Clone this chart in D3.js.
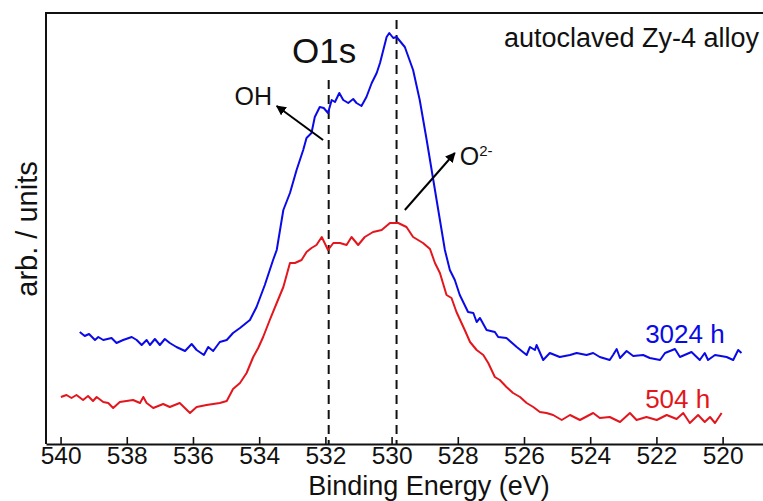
<!DOCTYPE html>
<html>
<head>
<meta charset="utf-8">
<script src="https://cdn.jsdelivr.net/npm/d3@7/dist/d3.min.js"></script>
<style>
  html, body { margin: 0; padding: 0; background: #fff; }
  svg { display: block; }
  text { font-family: "Liberation Sans", Arial, Helvetica, sans-serif; fill: #111; }
</style>
</head>
<body>
<svg id="chart" width="763" height="501"></svg>
<script>
// ---- data (binding energy in eV, intensity in arb. units) ----
const energy3024 = [539.42,539.27,539.14,538.96,538.86,538.71,538.46,538.31,538.11,537.85,537.70,537.55,537.40,537.30,537.15,537.00,536.85,536.70,536.50,536.24,536.04,535.89,535.67,535.54,535.39,535.19,534.98,534.79,534.58,534.28,534.08,533.83,533.58,533.47,533.27,533.07,532.87,532.67,532.57,532.42,532.32,532.17,532.05,531.92,531.81,531.71,531.58,531.46,531.31,531.16,531.06,530.91,530.76,530.60,530.45,530.35,530.25,530.15,530.07,529.95,529.85,529.60,529.35,529.15,528.94,528.74,528.54,528.39,528.24,528.09,527.94,527.69,527.53,527.43,527.33,527.13,526.88,526.78,526.53,526.22,525.92,525.82,525.67,525.62,525.42,525.22,524.92,524.61,524.41,524.11,523.91,523.71,523.41,523.31,523.20,523.10,522.90,522.70,522.40,522.20,521.89,521.74,521.44,521.29,520.94,520.69,520.54,520.44,520.23,519.88,519.68,519.53,519.43];
const counts3024 = [112,108,110,104,107,104,106,101,104,107,104,99,104,99,105,99,105,101,97,93,100,94,89,97,93,102,104,111,116,124,137,159,184,194,234,251,274,294,306,311,327,337,336,331,344,342,351,344,341,345,341,338,347,361,371,381,394,407,411,406,407,397,374,344,304,264,224,194,174,164,149,132,131,122,126,114,112,107,106,97,89,97,94,99,84,91,87,89,91,89,91,87,84,89,95,86,93,88,89,86,84,91,95,87,92,84,91,84,89,87,84,94,91];

const energy504 = [539.99,539.82,539.67,539.52,539.32,539.17,539.02,538.91,538.71,538.56,538.41,538.21,537.81,537.60,537.50,537.40,537.20,536.90,536.70,536.40,536.09,535.89,535.59,535.19,534.98,534.79,534.58,534.38,534.18,534.03,533.88,533.68,533.47,533.27,533.07,532.92,532.72,532.57,532.42,532.27,532.11,531.92,531.76,531.56,531.36,531.21,531.01,530.81,530.56,530.30,530.05,529.80,529.55,529.35,529.05,528.84,528.69,528.54,528.34,528.19,528.04,527.79,527.63,527.43,527.23,527.08,526.88,526.73,526.53,526.33,526.12,525.92,525.72,525.52,525.32,525.12,524.86,524.61,524.31,523.91,523.71,523.41,523.10,522.80,522.60,522.30,521.99,521.69,521.39,521.19,520.99,520.74,520.54,520.38,520.23,520.03];
const counts504 = [47,49,46,49,44,48,43,47,42,41,36,42,44,41,47,41,36,40,37,41,31,37,39,41,43,55,61,71,87,96,107,124,141,157,181,181,184,192,196,199,207,194,201,201,199,207,199,207,212,214,221,221,217,207,201,195,181,171,149,146,132,114,102,94,89,81,67,64,57,51,47,41,37,32,31,29,24,29,24,31,26,27,22,31,24,27,24,29,25,31,21,29,22,27,21,31];

const tickValues = [540,538,536,534,532,530,528,526,524,522,520];
const tickLabels = ["540","538","536","534","532","530","528","526","524","522","520"];
const peakLines = [531.9, 529.85];
const seriesNames = ["3024 h", "504 h"];
const seriesColors = ["#0a0ae8", "#e3161d"];

// ---- scales ----
const svg = d3.select("#chart");
const x = d3.scaleLinear().domain([540.44, 518.78]).range([46, 763]);
const y = d3.scaleLinear().domain([0, 431]).range([444, 13]);

// defs: arrow head
svg.append("defs").append("marker")
  .attr("id", "arrow").attr("viewBox", "0 0 10 10")
  .attr("refX", 9).attr("refY", 5)
  .attr("markerWidth", 5).attr("markerHeight", 5)
  .attr("orient", "auto-start-reverse")
  .append("path").attr("d", "M0,0 L10,5 L0,10 Z").attr("fill", "#000");

// frame (top + left; right edge lies outside the picture)
svg.append("path")
  .attr("d", `M${x(518.0)},${y(431)} H${x(540.44)} V${y(0)}`)
  .attr("fill", "none").attr("stroke", "#111").attr("stroke-width", 2);

// bottom axis
const xAxis = d3.axisBottom(x)
  .tickValues(tickValues)
  .tickFormat((d, i) => tickLabels[i])
  .tickSizeInner(-7).tickSizeOuter(0).tickPadding(3);
const gx = svg.append("g").attr("transform", `translate(0,${y(0)})`).call(xAxis);
gx.select(".domain").attr("stroke", "#111").attr("stroke-width", 2.2);
gx.selectAll(".tick line").attr("stroke", "#111").attr("stroke-width", 1.6);
gx.selectAll(".tick text").attr("font-size", 24.5).attr("fill", "#111")
  .attr("font-family", "'Liberation Sans', Arial, sans-serif");

// dashed peak lines
svg.append("line")
  .attr("x1", x(peakLines[0])).attr("x2", x(peakLines[0]))
  .attr("y1", y(364)).attr("y2", y(0))
  .attr("stroke", "#111").attr("stroke-width", 2).attr("stroke-dasharray", "9,6");
svg.append("line")
  .attr("x1", x(peakLines[1])).attr("x2", x(peakLines[1]))
  .attr("y1", y(424)).attr("y2", y(0))
  .attr("stroke", "#111").attr("stroke-width", 2).attr("stroke-dasharray", "9,6");

// curves
const line = d3.line().x(d => x(d[0])).y(d => y(d[1]));
const s3024 = energy3024.map((e, i) => [e, counts3024[i]]);
const s504 = energy504.map((e, i) => [e, counts504[i]]);
svg.append("path").datum(s504).attr("d", line)
  .attr("fill", "none").attr("stroke", seriesColors[1]).attr("stroke-width", 2).attr("stroke-linejoin", "round");
svg.append("path").datum(s3024).attr("d", line)
  .attr("fill", "none").attr("stroke", seriesColors[0]).attr("stroke-width", 2).attr("stroke-linejoin", "round");

// arrows
svg.append("line")
  .attr("x1", x(532.07)).attr("y1", y(304))
  .attr("x2", x(533.47)).attr("y2", y(338))
  .attr("stroke", "#000").attr("stroke-width", 2).attr("marker-end", "url(#arrow)");
svg.append("line")
  .attr("x1", x(529.60)).attr("y1", y(234))
  .attr("x2", x(528.09)).attr("y2", y(291))
  .attr("stroke", "#000").attr("stroke-width", 2).attr("marker-end", "url(#arrow)");

// texts
svg.append("text").attr("x", x(533.01)).attr("y", y(381))
  .attr("font-size", 35).text("O1s");
svg.append("text").attr("x", x(533.61)).attr("y", y(339))
  .attr("text-anchor", "end").attr("font-size", 25).text("OH");
const o2 = svg.append("text").attr("x", x(527.94)).attr("y", y(279)).attr("font-size", 25);
o2.append("tspan").text("O");
o2.append("tspan").attr("font-size", 15).attr("dy", -9).text("2-");
svg.append("text").attr("x", x(518.90)).attr("y", y(397.3))
  .attr("text-anchor", "end").attr("font-size", 27).text("autoclaved Zy-4 alloy");
svg.append("text").attr("x", x(522.34)).attr("y", y(100.7))
  .attr("font-size", 26).style("fill", seriesColors[0]).text(seriesNames[0]);
svg.append("text").attr("x", x(522.34)).attr("y", y(35.7))
  .attr("font-size", 26).style("fill", seriesColors[1]).text(seriesNames[1]);

// axis titles
svg.append("text").attr("x", 429).attr("y", 495)
  .attr("text-anchor", "middle").attr("font-size", 27).text("Binding Energy (eV)");
svg.append("text").attr("transform", "translate(37,229) rotate(-90)")
  .attr("text-anchor", "middle").attr("font-size", 29).text("arb. / units");
</script>
</body>
</html>
